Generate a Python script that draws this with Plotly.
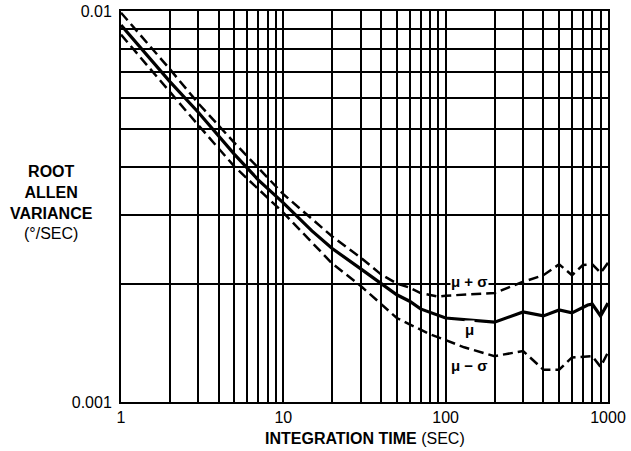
import numpy as np
import plotly.graph_objects as go

# Integration time (s) and root Allan variance (deg/s)
mu_x = [1, 2, 3, 5, 7, 10, 15, 20, 30, 40, 50, 60, 70, 100, 200, 300, 400, 500, 600, 750, 800, 900, 1000]
mu_y = [0.0092, 0.0066, 0.0055, 0.0043, 0.0037, 0.00323, 0.00274, 0.00247, 0.00219, 0.00201, 0.00188,
        0.00181, 0.00173, 0.00164, 0.0016, 0.0017, 0.00166, 0.00172, 0.00169, 0.00177, 0.00178, 0.00166, 0.00179]

up_x = [1, 2, 3, 5, 10, 20, 30, 40, 50, 60, 70, 90, 100, 200, 300, 400, 500, 600, 700, 800, 900, 1000]
up_y = [0.0099, 0.0071, 0.0058, 0.0046, 0.0034, 0.00265, 0.00234, 0.00212, 0.00201, 0.00196, 0.0019,
        0.00186, 0.00187, 0.0019, 0.00203, 0.00211, 0.00225, 0.00211, 0.00224, 0.00225, 0.00214, 0.00227]

lo_x = [1, 2, 3, 5, 10, 20, 30, 50, 80, 100, 130, 200, 300, 400, 500, 600, 800, 900, 1000]
lo_y = [0.0087, 0.0062, 0.0051, 0.0040, 0.00305, 0.00226, 0.00198, 0.00164, 0.00149, 0.00144, 0.00138,
        0.00131, 0.00135, 0.00121, 0.00121, 0.0013, 0.00131, 0.00123, 0.00134]

x_ticks = [1, 10, 100, 1000]
x_ticktext = ["1", "10", "100", "1000"]
y_ticks = [0.001, 0.01]
y_ticktext = ["0.001", "0.01"]
x_minor = [m * d for d in (1, 10, 100) for m in range(2, 10)]
y_minor = [m * 0.001 for m in range(2, 10)]

labels = [("μ + σ", 141, 0.00203), ("μ", 141, 0.00153), ("μ − σ", 141, 0.00124)]

FONT = "Liberation Sans, Arial, Helvetica, sans-serif"

fig = go.Figure()
fig.add_trace(go.Scatter(x=up_x, y=up_y, mode="lines",
                         line=dict(color="black", width=2.5, dash="10px,5px")))
fig.add_trace(go.Scatter(x=lo_x, y=lo_y, mode="lines",
                         line=dict(color="black", width=2.5, dash="10px,5px")))
fig.add_trace(go.Scatter(x=mu_x, y=mu_y, mode="lines",
                         line=dict(color="black", width=3.2)))

for txt, lx, ly in labels:
    fig.add_annotation(x=np.log10(lx), y=np.log10(ly), text="<b>" + txt + "</b>",
                       showarrow=False, font=dict(size=15, color="black", family=FONT),
                       bgcolor="white", borderpad=0)

fig.add_annotation(xref="paper", yref="paper", x=-0.142, y=0.51, xanchor="center", yanchor="middle",
                   text="<b>ROOT</b><br><b>ALLEN</b><br><b>VARIANCE</b><br>(°/SEC)",
                   showarrow=False, align="center",
                   font=dict(size=16, color="black", family=FONT))

# x-axis title as a paper annotation so it never pushes the margins
fig.add_annotation(xref="paper", yref="paper", x=0.5, y=-0.093, xanchor="center", yanchor="middle",
                   text="<b>INTEGRATION TIME</b> (SEC)", showarrow=False,
                   font=dict(size=16, color="black", family=FONT))

axis_common = dict(type="log", showline=True, linecolor="black", linewidth=2, mirror=True,
                   showgrid=True, gridcolor="black", gridwidth=1.5, ticks="",
                   zeroline=False, automargin=False)

fig.update_xaxes(range=[0, 3], tickmode="array", tickvals=x_ticks, ticktext=x_ticktext,
                 tickfont=dict(size=16, color="black", family=FONT),
                 minor=dict(tickmode="array", tickvals=x_minor, showgrid=True,
                            gridcolor="black", gridwidth=1.5, ticks=""),
                 **axis_common)
fig.update_yaxes(range=[-3, -2], tickmode="array", tickvals=y_ticks, ticktext=y_ticktext,
                 tickfont=dict(size=16, color="black", family=FONT), ticklabelstandoff=4,
                 minor=dict(tickmode="array", tickvals=y_minor, showgrid=True,
                            gridcolor="black", gridwidth=1.5, ticks=""),
                 **axis_common)

fig.update_layout(width=631, height=451, showlegend=False,
                  margin=dict(l=121, r=23, t=11, b=49, autoexpand=False),
                  paper_bgcolor="white", plot_bgcolor="white",
                  font=dict(family=FONT, color="black"))

fig.write_html("out.html", config={"displayModeBar": False},
               post_script="document.body.style.margin='0';document.body.style.overflow='hidden';")
